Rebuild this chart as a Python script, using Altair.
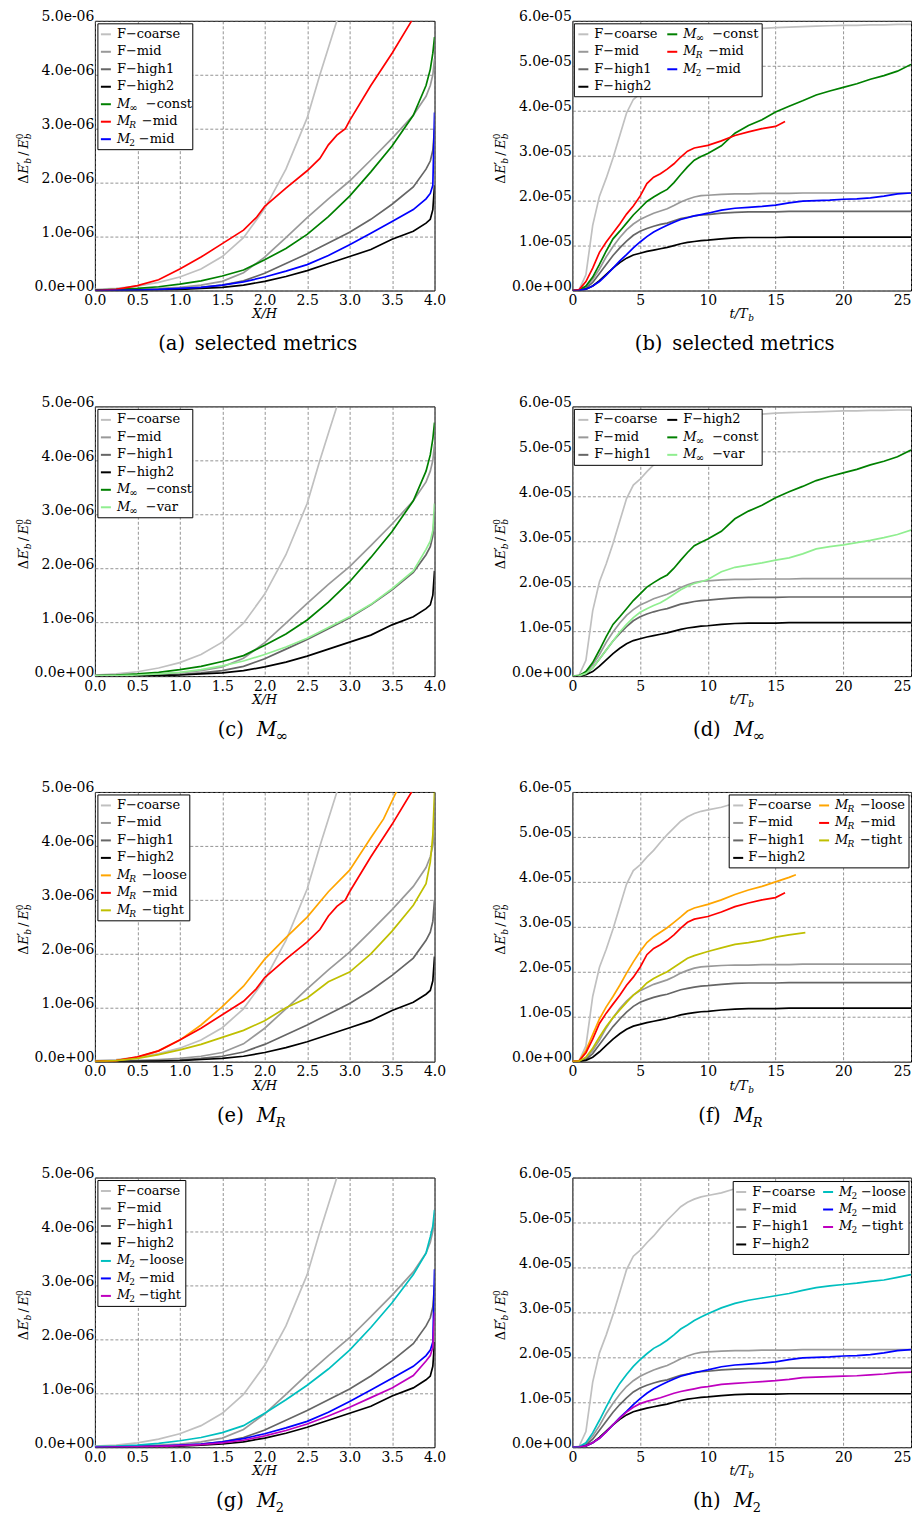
import altair as alt
import pandas as pd

# ---------------- data ----------------
# Left column: x = X/H, values in units of 1e-6
LX = [0, 0.25, 0.5, 0.75, 1.0, 1.25, 1.5, 1.75, 2.0, 2.25, 2.5, 2.75, 3.0, 3.25, 3.5, 3.75, 3.9, 3.95, 3.98, 4.0]
LX_F_COARSE = [0, 0.25, 0.5, 0.75, 1.0, 1.25, 1.5, 1.75, 2.0, 2.25, 2.5, 2.65, 2.75, 2.85]
L_F_COARSE = [0.02, 0.04, 0.08, 0.15, 0.25, 0.4, 0.63, 0.98, 1.52, 2.25, 3.2, 4.0, 4.5, 5.0]
L_F_MID = [0.01, 0.015, 0.025, 0.04, 0.06, 0.1, 0.17, 0.33, 0.62, 0.98, 1.35, 1.7, 2.03, 2.42, 2.82, 3.25, 3.6, 3.8, 4.0, 4.3]
L_F_HIGH1 = [0.005, 0.008, 0.01, 0.02, 0.03, 0.06, 0.1, 0.18, 0.32, 0.5, 0.68, 0.88, 1.08, 1.32, 1.6, 1.92, 2.25, 2.4, 2.6, 3.0]
L_F_HIGH2 = [0.0, 0.003, 0.006, 0.01, 0.02, 0.04, 0.06, 0.1, 0.17, 0.26, 0.37, 0.5, 0.63, 0.76, 0.95, 1.1, 1.25, 1.32, 1.5, 1.95]
L_MINF_CONST = [0.01, 0.02, 0.04, 0.07, 0.12, 0.18, 0.27, 0.38, 0.57, 0.78, 1.04, 1.37, 1.75, 2.2, 2.68, 3.25, 3.8, 4.1, 4.4, 4.7]
L_MINF_VAR = [0.005, 0.01, 0.02, 0.04, 0.07, 0.12, 0.19, 0.28, 0.4, 0.54, 0.7, 0.9, 1.1, 1.33, 1.62, 1.95, 2.35, 2.5, 2.7, 3.2]
LX_MR_LOOSE = [0, 0.25, 0.5, 0.75, 1.0, 1.25, 1.5, 1.75, 2.0, 2.25, 2.5, 2.75, 3.0, 3.25, 3.4, 3.55]
L_MR_LOOSE = [0.0, 0.02, 0.08, 0.2, 0.4, 0.68, 1.02, 1.4, 1.9, 2.3, 2.68, 3.15, 3.55, 4.15, 4.5, 5.0]
LX_MR_MID = [0, 0.25, 0.5, 0.75, 1.0, 1.25, 1.5, 1.75, 1.9, 2.0, 2.25, 2.5, 2.65, 2.75, 2.85, 2.95, 3.0, 3.25, 3.5, 3.73]
L_MR_MID = [0.0, 0.02, 0.09, 0.2, 0.4, 0.62, 0.87, 1.12, 1.35, 1.56, 1.9, 2.22, 2.45, 2.7, 2.88, 3.0, 3.15, 3.8, 4.4, 5.0]
L_MR_TIGHT = [0.0, 0.02, 0.06, 0.13, 0.22, 0.32, 0.45, 0.58, 0.76, 1.0, 1.18, 1.48, 1.66, 2.0, 2.42, 2.9, 3.3, 3.7, 4.2, 5.0]
L_M2_LOOSE = [0.01, 0.02, 0.04, 0.07, 0.12, 0.18, 0.27, 0.4, 0.63, 0.88, 1.15, 1.45, 1.8, 2.22, 2.68, 3.2, 3.6, 3.9, 4.1, 4.4]
L_M2_MID = [0.0, 0.005, 0.01, 0.02, 0.04, 0.06, 0.1, 0.16, 0.25, 0.36, 0.48, 0.65, 0.85, 1.06, 1.28, 1.5, 1.7, 1.8, 1.95, 3.3]
L_M2_TIGHT = [0.0, 0.004, 0.008, 0.015, 0.03, 0.05, 0.08, 0.13, 0.21, 0.31, 0.43, 0.58, 0.74, 0.92, 1.1, 1.33, 1.6, 1.7, 1.85, 2.5]

# Right column: x = t/T_b, values in units of 1e-5
RT = [0, 0.5, 1, 1.5, 2, 2.5, 3, 3.5, 4, 4.5, 5, 5.5, 6, 6.5, 7, 7.5, 8, 8.5, 9, 9.5,
      10, 11, 12, 13, 14, 15, 16, 17, 18, 19, 20, 21, 22, 23, 24, 25]
R_F_COARSE = [0, 0.02, 0.35, 1.45, 2.1, 2.5, 2.95, 3.45, 3.95, 4.25, 4.38, 4.55, 4.7, 4.88, 5.05, 5.2, 5.35, 5.45, 5.52, 5.57,
              5.6, 5.66, 5.75, 5.8, 5.83, 5.85, 5.86, 5.87, 5.88, 5.89, 5.9, 5.9, 5.91, 5.91, 5.92, 5.92]
R_F_MID = [0, 0.005, 0.08, 0.25, 0.48, 0.75, 0.98, 1.18, 1.35, 1.48, 1.58, 1.65, 1.72, 1.77, 1.82, 1.89, 1.97, 2.03, 2.08, 2.11,
           2.12, 2.14, 2.15, 2.15, 2.16, 2.16, 2.16, 2.17, 2.17, 2.17, 2.17, 2.17, 2.17, 2.17, 2.17, 2.17]
R_F_HIGH1 = [0, 0.003, 0.05, 0.18, 0.38, 0.58, 0.78, 0.95, 1.1, 1.23, 1.32, 1.38, 1.43, 1.47, 1.5, 1.55, 1.6, 1.63, 1.66, 1.68,
             1.69, 1.72, 1.74, 1.75, 1.75, 1.75, 1.76, 1.76, 1.76, 1.76, 1.76, 1.76, 1.76, 1.76, 1.76, 1.76]
R_F_HIGH2 = [0, 0.002, 0.03, 0.1, 0.22, 0.36, 0.5, 0.62, 0.72, 0.79, 0.83, 0.87, 0.9, 0.93, 0.96, 1.0, 1.04, 1.07, 1.09, 1.11,
             1.12, 1.15, 1.17, 1.18, 1.18, 1.18, 1.19, 1.19, 1.19, 1.19, 1.19, 1.19, 1.19, 1.19, 1.19, 1.19]
R_MINF_CONST = [0, 0.01, 0.1, 0.3, 0.58, 0.88, 1.15, 1.32, 1.5, 1.68, 1.83, 1.98, 2.08, 2.17, 2.25, 2.4, 2.58, 2.75, 2.9, 2.98,
                3.05, 3.22, 3.5, 3.67, 3.8, 3.97, 4.1, 4.22, 4.35, 4.44, 4.52, 4.6, 4.7, 4.78, 4.88, 5.03]
R_MINF_VAR = [0, 0.005, 0.06, 0.18, 0.38, 0.58, 0.78, 0.98, 1.15, 1.3, 1.42, 1.5, 1.57, 1.63, 1.72, 1.82, 1.92, 2.0, 2.06, 2.1,
              2.15, 2.32, 2.42, 2.47, 2.52, 2.58, 2.63, 2.72, 2.83, 2.88, 2.92, 2.97, 3.02, 3.08, 3.15, 3.25]
R_M2_LOOSE = [0, 0.01, 0.1, 0.32, 0.6, 0.9, 1.18, 1.42, 1.62, 1.8, 1.95, 2.08, 2.2, 2.28, 2.38, 2.5, 2.63, 2.72, 2.82, 2.9,
              2.97, 3.1, 3.2, 3.27, 3.32, 3.37, 3.42, 3.49, 3.55, 3.59, 3.62, 3.65, 3.69, 3.72, 3.78, 3.84]
R_M2_MID = [0, 0.003, 0.03, 0.1, 0.2, 0.34, 0.5, 0.66, 0.8, 0.95, 1.08, 1.2, 1.3, 1.38, 1.45, 1.52, 1.58, 1.62, 1.66, 1.69,
            1.72, 1.79, 1.83, 1.85, 1.87, 1.9, 1.95, 1.99, 2.0, 2.01, 2.03, 2.04, 2.06, 2.1, 2.15, 2.17]
R_M2_TIGHT = [0, 0.003, 0.03, 0.1, 0.2, 0.34, 0.5, 0.65, 0.78, 0.89, 0.97, 1.02, 1.06, 1.1, 1.15, 1.2, 1.24, 1.27, 1.3, 1.33,
              1.35, 1.4, 1.42, 1.44, 1.46, 1.48, 1.51, 1.55, 1.56, 1.57, 1.58, 1.59, 1.61, 1.63, 1.66, 1.67]
RT_MR_LOOSE = [0, 0.5, 1, 1.5, 2, 2.5, 3, 3.5, 4, 4.5, 5, 5.5, 6, 6.5, 7, 7.5, 8, 8.5, 9, 10, 11, 12, 13, 14, 15, 16, 16.5]
R_MR_LOOSE = [0, 0.02, 0.25, 0.6, 0.95, 1.22, 1.45, 1.7, 1.97, 2.22, 2.45, 2.65, 2.78, 2.88, 2.98, 3.1, 3.22, 3.35, 3.42,
              3.5, 3.6, 3.72, 3.82, 3.9, 4.0, 4.1, 4.16]
RT_MR_MID = [0, 0.5, 1, 1.5, 2, 2.5, 3, 3.5, 4, 4.5, 5, 5.5, 6, 6.5, 7, 7.5, 8, 8.5, 9, 10, 11, 12, 13, 14, 15, 15.7]
R_MR_MID = [0, 0.02, 0.2, 0.5, 0.85, 1.08, 1.28, 1.48, 1.7, 1.88, 2.1, 2.38, 2.52, 2.6, 2.7, 2.82, 2.97, 3.1, 3.17,
            3.23, 3.33, 3.45, 3.53, 3.6, 3.65, 3.76]
RT_MR_TIGHT = [0, 0.5, 1, 1.5, 2, 2.5, 3, 3.5, 4, 4.5, 5, 5.5, 6, 6.5, 7, 7.5, 8, 8.5, 9, 10, 11, 12, 13, 14, 15, 16, 17.2]
R_MR_TIGHT = [0, 0.01, 0.1, 0.3, 0.55, 0.78, 0.98, 1.15, 1.32, 1.48, 1.6, 1.75, 1.85, 1.93, 2.0, 2.1, 2.2, 2.3, 2.36,
              2.45, 2.53, 2.61, 2.65, 2.7, 2.77, 2.82, 2.87]

# tick values
LX_TICKS = [0, 0.5, 1.0, 1.5, 2.0, 2.5, 3.0, 3.5, 4.0]
LY_TICKS = [0, 1e-6, 2e-6, 3e-6, 4e-6, 5e-6]
RX_TICKS = [0, 5, 10, 15, 20, 25]
RY_TICKS = [0, 1e-5, 2e-5, 3e-5, 4e-5, 5e-5, 6e-5]

# legend labels: (main, subscript, subscript-italic, rest, rest offset)
LABELS = {
    "F_COARSE": ("F\u2212coarse", None, False, None, 0),
    "F_MID": ("F\u2212mid", None, False, None, 0),
    "F_HIGH1": ("F\u2212high1", None, False, None, 0),
    "F_HIGH2": ("F\u2212high2", None, False, None, 0),
    "MINF_CONST": ("M", "\u221e", False, "\u2212const", 29),
    "MINF_VAR": ("M", "\u221e", False, "\u2212var", 29),
    "MR_LOOSE": ("M", "R", True, "\u2212loose", 25),
    "MR_MID": ("M", "R", True, "\u2212mid", 25),
    "MR_TIGHT": ("M", "R", True, "\u2212tight", 25),
    "M2_LOOSE": ("M", "2", False, "\u2212loose", 22),
    "M2_MID": ("M", "2", False, "\u2212mid", 22),
    "M2_TIGHT": ("M", "2", False, "\u2212tight", 22),
}
COLORS = {
    "F_COARSE": "#c0c0c0", "F_MID": "#999999", "F_HIGH1": "#666666", "F_HIGH2": "#000000",
    "MINF_CONST": "#008000", "MINF_VAR": "#90ee90",
    "MR_LOOSE": "#ffa500", "MR_MID": "#ff0000", "MR_TIGHT": "#bfbf00",
    "M2_LOOSE": "#00bfbf", "M2_MID": "#0000ff", "M2_TIGHT": "#bf00bf",
}
LEFT = {
    "F_COARSE": (LX_F_COARSE, L_F_COARSE), "F_MID": (LX, L_F_MID), "F_HIGH1": (LX, L_F_HIGH1),
    "F_HIGH2": (LX, L_F_HIGH2), "MINF_CONST": (LX, L_MINF_CONST), "MINF_VAR": (LX, L_MINF_VAR),
    "MR_LOOSE": (LX_MR_LOOSE, L_MR_LOOSE), "MR_MID": (LX_MR_MID, L_MR_MID), "MR_TIGHT": (LX, L_MR_TIGHT),
    "M2_LOOSE": (LX, L_M2_LOOSE), "M2_MID": (LX, L_M2_MID), "M2_TIGHT": (LX, L_M2_TIGHT),
}
RIGHT = {
    "F_COARSE": (RT, R_F_COARSE), "F_MID": (RT, R_F_MID), "F_HIGH1": (RT, R_F_HIGH1),
    "F_HIGH2": (RT, R_F_HIGH2), "MINF_CONST": (RT, R_MINF_CONST), "MINF_VAR": (RT, R_MINF_VAR),
    "MR_LOOSE": (RT_MR_LOOSE, R_MR_LOOSE), "MR_MID": (RT_MR_MID, R_MR_MID), "MR_TIGHT": (RT_MR_TIGHT, R_MR_TIGHT),
    "M2_LOOSE": (RT, R_M2_LOOSE), "M2_MID": (RT, R_M2_MID), "M2_TIGHT": (RT, R_M2_TIGHT),
}

FONT = "DejaVu Serif"
WL, WR, H = 340, 339, 270
LFS = 13  # legend font size
YLABEL = "replace(replace(format(datum.value, '.1e'), 'e-', 'e-0'), 'e+', 'e+0')"


def T(rows, x, y, t, s=13, it=False, align="left", ang=0):
    rows.append(dict(x=x, y=y, t=t, s=s, st="i" if it else "r", al=align, ang=ang))


def text_layers(rows):
    df = pd.DataFrame(rows)
    out = []
    for (st, al), sub in df.groupby(["st", "al"]):
        out.append(
            alt.Chart(sub.reset_index(drop=True)).mark_text(
                align=al, baseline="alphabetic", font=FONT,
                fontStyle="italic" if st == "i" else "normal", color="black")
            .encode(x=alt.X("x:Q", scale=None), y=alt.Y("y:Q", scale=None),
                    text="t:N", size=alt.Size("s:Q", scale=None),
                    angle=alt.Angle("ang:Q", scale=None))
        )
    return out


def panel(side, keys, split, box, cols, letter, cap):
    if side == "L":
        W = WL
        data, mult = LEFT, 1e-6
        xs = alt.Scale(domain=[0, 4], nice=False, zero=False)
        ys = alt.Scale(domain=[0, 5e-6], nice=False, zero=False)
        xax = alt.Axis(values=LX_TICKS, format=".1f", title=None)
        yax = alt.Axis(values=LY_TICKS, labelExpr=YLABEL, title=None)
    else:
        W = WR
        data, mult = RIGHT, 1e-5
        xs = alt.Scale(domain=[0, 25], nice=False, zero=False)
        ys = alt.Scale(domain=[0, 6e-5], nice=False, zero=False)
        xax = alt.Axis(values=RX_TICKS, format="d", title=None,
                       labelAlign={"condition": {"test": "datum.value >= 25", "value": "right"},
                                   "value": "center"})
        yax = alt.Axis(values=RY_TICKS, labelExpr=YLABEL, title=None)

    layers = []
    for k in keys:
        xv, yv = data[k]
        df = pd.DataFrame({"x": xv, "y": [v * mult for v in yv]})
        layers.append(
            alt.Chart(df).mark_line(color=COLORS[k], strokeWidth=1.7, clip=True)
            .encode(x=alt.X("x:Q", scale=xs, axis=xax), y=alt.Y("y:Q", scale=ys, axis=yax))
        )

    # legend box
    bx0, bx1, by0, by1 = box
    layers.append(
        alt.Chart(pd.DataFrame({"a": [0]})).mark_rect(fill="white", stroke="black", strokeWidth=1)
        .encode(x=alt.value(bx0), x2=alt.value(bx1), y=alt.value(by0), y2=alt.value(by1))
    )
    rows, rules = [], []
    for i, k in enumerate(keys):
        c = 0 if i < split else 1
        r = i if i < split else i - split
        sx, lx = cols[c]
        base = by0 + 14 + 17.5 * r
        rules.append(dict(x1=sx, x2=sx + 10, y=base - 3.5, col=COLORS[k]))
        main, sub, subit, rest, off = LABELS[k]
        if sub is None:
            T(rows, lx, base, main, LFS)
        else:
            T(rows, lx, base, main, LFS, True)
            T(rows, lx + 12.5, base + 3, sub, 10 if sub == "\u221e" else 9, subit)
            T(rows, lx + off, base, rest, LFS)
    layers.append(
        alt.Chart(pd.DataFrame(rules)).mark_rule(strokeWidth=2)
        .encode(x=alt.X("x1:Q", scale=None), x2="x2:Q", y=alt.Y("y:Q", scale=None),
                color=alt.Color("col:N", scale=None))
    )

    # y title  (Delta E'_b / E^0_b), rotated
    bx = -67
    y0 = H / 2 + 28
    T(rows, bx, y0, "\u0394", 13, False, ang=270)
    T(rows, bx, y0 - 10, "E", 13, True, ang=270)
    T(rows, bx - 1, y0 - 19, "\u2032", 13, False, ang=270)
    T(rows, bx + 3, y0 - 20, "b", 9, True, ang=270)
    T(rows, bx, y0 - 28, "/", 13, False, ang=270)
    T(rows, bx, y0 - 35, "E", 13, True, ang=270)
    T(rows, bx - 5, y0 - 44.5, "0", 9, False, ang=270)
    T(rows, bx + 3, y0 - 44.5, "b", 9, True, ang=270)

    # x title
    if side == "L":
        T(rows, W / 2, H + 28, "X/H", 13, True, "center")
    else:
        T(rows, W / 2 + 6, H + 28, "t/T", 13, True, "right")
        T(rows, W / 2 + 6.5, H + 31, "b", 9, True)

    # caption
    cx = W / 2 - 7
    cy = H + 60
    if cap == "sel":
        T(rows, cx, cy, "(" + letter + ")\u2002selected metrics", 19.5, False, "center")
    else:
        T(rows, cx - 14, cy, "(" + letter + ")", 19.5, False, "right")
        T(rows, cx - 1, cy, "M", 19.5, True)
        subt, subit, subs = {"inf": ("\u221e", False, 15), "R": ("R", True, 13), "2": ("2", False, 13)}[cap]
        T(rows, cx + 18, cy + 5, subt, subs, subit)

    layers += text_layers(rows)
    return alt.layer(*layers).properties(width=W, height=H)


F4 = ["F_COARSE", "F_MID", "F_HIGH1", "F_HIGH2"]
COL_L = [(6, 22)]
COL_R = [(6, 22), (95, 111)]
COL_RTR_F = [(161, 176), (247, 263)]
COL_RTR_H = [(164, 180), (251, 267)]

panels = [
    panel("L", F4 + ["MINF_CONST", "MR_MID", "M2_MID"], 7, (3, 98, 3, 129), COL_L, "a", "sel"),
    panel("R", F4 + ["MINF_CONST", "MR_MID", "M2_MID"], 4, (2, 190, 3, 76), COL_R, "b", "sel"),
    panel("L", F4 + ["MINF_CONST", "MINF_VAR"], 6, (3, 98, 3, 111.5), COL_L, "c", "inf"),
    panel("R", F4 + ["MINF_CONST", "MINF_VAR"], 3, (2, 190, 3, 59), COL_R, "d", "inf"),
    panel("L", F4 + ["MR_LOOSE", "MR_MID", "MR_TIGHT"], 7, (3, 95, 3, 129), COL_L, "e", "R"),
    panel("R", F4 + ["MR_LOOSE", "MR_MID", "MR_TIGHT"], 4, (157, 337, 3, 76), COL_RTR_F, "f", "R"),
    panel("L", F4 + ["M2_LOOSE", "M2_MID", "M2_TIGHT"], 7, (3, 91, 3, 129), COL_L, "g", "2"),
    panel("R", F4 + ["M2_LOOSE", "M2_MID", "M2_TIGHT"], 4, (161, 337, 4, 77), COL_RTR_H, "h", "2"),
]

chart = (
    alt.concat(*panels, columns=2, spacing={"row": 116, "column": 138}, bounds="flush")
    .properties(padding={"left": 7, "top": 0, "right": 0, "bottom": 0}, background="white")
    .configure_view(stroke="black", strokeWidth=1)
    .configure_axis(
        labelFont=FONT, labelFontSize=14, labelColor="black",
        ticks=False, tickSize=0, domain=False, grid=True,
        gridColor="#666666", gridDash=[3, 2], gridWidth=0.7,
        labelFlush=False, labelOverlap=False,
    )
    .configure_axisX(labelPadding=3, labelBaseline="top")
    .configure_axisY(labelPadding=1, labelAlign="right", labelBaseline="alphabetic")
)

chart.save("out.html", embed_options={"renderer": "svg", "actions": False})
